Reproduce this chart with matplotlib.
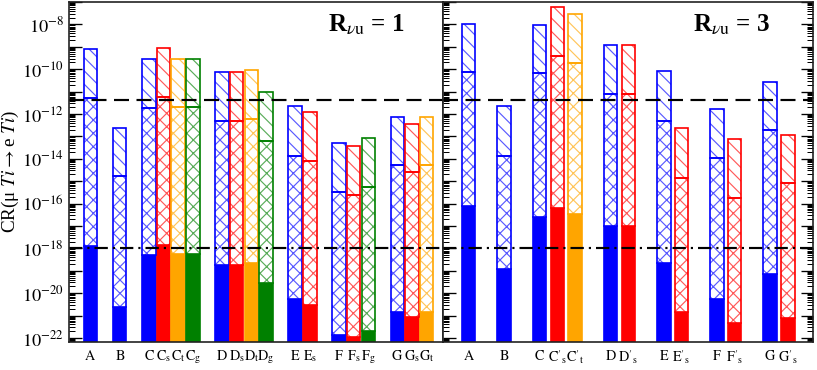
import matplotlib
matplotlib.use("Agg")
import matplotlib.pyplot as plt
import matplotlib.colors as mcolors
import numpy as np
from matplotlib.ticker import LogLocator, FixedLocator, FuncFormatter, NullFormatter

plt.rcParams['font.family'] = ['Liberation Serif', 'DejaVu Serif']
plt.rcParams['mathtext.fontset'] = 'stix'
plt.rcParams['hatch.linewidth'] = 0.7
plt.rcParams['lines.scale_dashes'] = False

# ---- data: R_nu_u = 1 (left panel) ----
left_groups = [["A"], ["B"], ["C", "Cs", "Ct", "Cg"], ["D", "Ds", "Dt", "Dg"],
               ["E", "Es"], ["F", "Fs", "Fg"], ["G", "Gs", "Gt"]]
# upper end of diagonal-hatched part, upper end of cross-hatched part, upper end of solid part
left_top = [7.7e-10, 2.3e-13, 3.0e-10, 8.5e-10, 3.0e-10, 3.0e-10,
            7.2e-11, 7.2e-11, 8.9e-11, 1.0e-11, 2.2e-12, 1.2e-12,
            4.9e-14, 3.6e-14, 8.1e-14, 7.1e-13, 3.5e-13, 7.1e-13]
left_mid = [5.0e-12, 1.7e-15, 1.8e-12, 5.5e-12, 2.0e-12, 2.0e-12,
            4.7e-13, 4.7e-13, 5.8e-13, 6.0e-14, 1.4e-14, 7.8e-15,
            3.2e-16, 2.3e-16, 5.4e-16, 5.1e-15, 2.5e-15, 5.1e-15]
left_low = [1.3e-18, 2.3e-21, 4.9e-19, 1.4e-18, 5.5e-19, 5.5e-19,
            1.8e-19, 1.8e-19, 2.2e-19, 2.8e-20, 5.4e-21, 2.9e-21,
            1.3e-22, 1.1e-22, 2.0e-22, 1.5e-21, 8.5e-22, 1.5e-21]

# ---- data: R_nu_u = 3 (right panel) ----
right_groups = [["A"], ["B"], ["C", "C's", "C't"], ["D", "D's"],
                ["E", "E's"], ["F", "F's"], ["G", "G's"]]
right_top = [1.0e-8, 2.2e-12, 9.1e-9, 5.8e-8, 2.8e-8, 1.15e-9, 1.15e-9,
             7.9e-11, 2.3e-13, 1.6e-12, 7.4e-14, 2.6e-11, 1.2e-13]
right_mid = [7.2e-11, 1.4e-14, 6.5e-11, 3.7e-10, 1.8e-10, 7.6e-12, 7.6e-12,
             4.7e-13, 1.35e-15, 1.05e-14, 1.7e-16, 1.9e-13, 7.9e-16]
right_low = [7.6e-17, 1.2e-19, 2.5e-17, 6.2e-17, 3.3e-17, 9.8e-18, 9.8e-18,
             2.2e-19, 1.4e-21, 5.4e-21, 4.6e-22, 6.9e-20, 7.6e-22]

current_limit = 4.3e-12
future_limit = 1.0e-18

YMIN, YMAX = 10 ** -22.18, 1e-7
COLORS = {"": "#0000ff", "s": "#ff0000", "t": "#ffa500", "g": "#008000"}


def lighten(c, f=0.35):
    r = np.array(mcolors.to_rgb(c))
    return tuple(r + (1 - r) * f)


def label_tex(name):
    base = name[0]
    prime = "'" if "'" in name else ""
    sub = name[-1] if len(name) > 1 else ""
    s = r"\mathrm{%s}%s" % (base, prime)
    if sub:
        s += r"_\mathrm{%s}" % sub
    return "$" + s + "$"


def draw_panel(ax, groups, top, mid, low, width):
    names, pos = [], []
    p = 0
    for g in groups:
        for n in g:
            names.append(n)
            pos.append(p)
            p += 1
        p += 1
    pos = np.array(pos, dtype=float)
    cols = [COLORS[n[-1]] if len(n) > 1 else COLORS[""] for n in names]
    light = [lighten(c) for c in cols]
    top, mid, low = map(np.array, (top, mid, low))
    bot = YMIN / 10

    ax.bar(pos, low - bot, bottom=bot, width=width, color=cols, edgecolor=cols, linewidth=1)
    ax.bar(pos, mid - low, bottom=low, width=width, color='white', edgecolor=light,
           hatch='xxx', linewidth=0)
    ax.bar(pos, top - mid, bottom=mid, width=width, color='white', edgecolor=light,
           hatch='\\\\\\', linewidth=0)
    ax.bar(pos, mid - low, bottom=low, width=width, fill=False, edgecolor=cols, linewidth=1)
    ax.bar(pos, top - mid, bottom=mid, width=width, fill=False, edgecolor=cols, linewidth=1)

    ax.set_xticks(pos, [label_tex(n) for n in names], fontsize=8.5)
    ax.tick_params(axis='x', length=0, pad=4)


fig = plt.figure(figsize=(817 / 120, 370 / 120), dpi=120)
axL = fig.add_axes([69 / 817, 28 / 370, 374 / 817, 340 / 370])
axR = fig.add_axes([443 / 817, 28 / 370, 370 / 817, 340 / 370], sharey=axL)

draw_panel(axL, left_groups, left_top, left_mid, left_low, 0.92)
draw_panel(axR, right_groups, right_top, right_mid, right_low, 0.76)
axL.set_xlim(-1.47, 24.11)
axR.set_xlim(-1.44, 19.41)

for ax in (axL, axR):
    ax.set_yscale('log')
    ax.set_ylim(YMIN, YMAX)
    ax.axhline(current_limit, color='black', lw=1.3, dashes=(9, 4.5))
    ax.axhline(future_limit, color='black', lw=1.3, dashes=(8, 3, 1.3, 3))
    ax.yaxis.set_major_locator(FixedLocator(10.0 ** np.arange(-22, -6)))
    ax.yaxis.set_minor_locator(LogLocator(base=10, subs=np.arange(2, 10), numticks=40))
    ax.yaxis.set_minor_formatter(NullFormatter())
    ax.tick_params(axis='y', which='major', direction='in', length=7.5, width=0.8)
    ax.tick_params(axis='y', which='minor', direction='in', length=3.8, width=0.6)
    for sp in ax.spines.values():
        sp.set_linewidth(1.0)
        sp.set_color('#222222')

axL.yaxis.set_major_formatter(FuncFormatter(
    lambda v, _: r"$10^{%d}$" % round(np.log10(v)) if round(np.log10(v)) % 2 == 0 else ""))
axL.tick_params(axis='y', which='both', labelsize=11, pad=3)
axR.tick_params(axis='y', which='both', left=True, right=True, labelleft=False)

axL.set_ylabel(r"CR(μ $\it{Ti}$$\rightarrow$e $\it{Ti}$)", fontsize=11.5)
axL.yaxis.set_label_coords(-0.128, 0.5)

axL.text(0.898, 0.912, r"R$_{\nu \mathrm{u}}$ = 1", transform=axL.transAxes,
         ha='right', va='baseline', fontsize=15, fontweight='bold')
axR.text(0.884, 0.912, r"R$_{\nu \mathrm{u}}$ = 3", transform=axR.transAxes,
         ha='right', va='baseline', fontsize=15, fontweight='bold')

fig.savefig("out.png", dpi=120)
